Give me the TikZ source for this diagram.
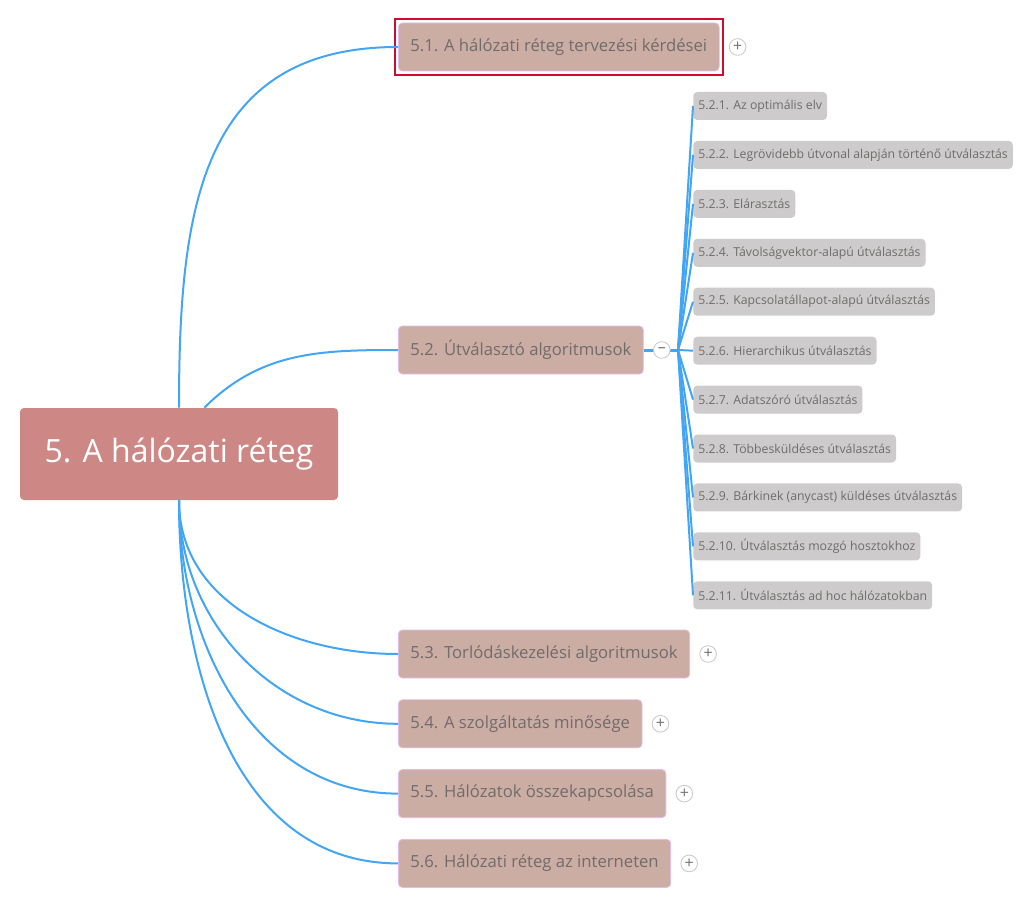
\documentclass[tikz,border=0pt]{standalone}
\usepackage{fontspec}
\setmainfont{Open Sans}
\usepackage{tikz}
\usetikzlibrary{shapes,arrows,positioning,fit,backgrounds}
\definecolor{rootfill}{RGB}{205,136,134}
\definecolor{topicfill}{RGB}{204,173,164}
\definecolor{topicline}{RGB}{226,186,240}
\definecolor{subfill}{RGB}{205,203,203}
\definecolor{linkblue}{RGB}{66,165,245}
\definecolor{selred}{RGB}{200,16,46}
\definecolor{txtgray}{RGB}{112,108,108}
\tikzstyle{root} = [rectangle, rounded corners=3pt, fill=rootfill, text=white, text centered, font=\fontsize{24}{28}\selectfont, minimum width=238.5pt, minimum height=69pt]
\tikzstyle{topic} = [rectangle, rounded corners=3pt, draw=topicline, line width=0.6pt, fill=topicfill, text=txtgray, font=\fontsize{12.5}{15}\selectfont, inner xsep=9pt, minimum height=36pt, anchor=west]
\tikzstyle{sub} = [rectangle, rounded corners=3pt, fill=subfill, text=txtgray, font=\fontsize{9.2}{11}\selectfont, inner xsep=3.75pt, minimum height=21pt, anchor=west]
\tikzstyle{toggle} = [circle, draw=black!22, line width=0.6pt, fill=white, text=black!55, inner sep=0pt, minimum size=12.5pt, font=\fontsize{12}{12}\selectfont]
\tikzstyle{selbox} = [rectangle, draw=selred, line width=1.5pt, inner sep=2.5pt]
\tikzstyle{link}  = [draw=linkblue, line width=1.5pt]

\begin{document}
\begin{tikzpicture}[x=0.75pt, y=-0.75pt]
\useasboundingbox (0,0) rectangle (1027,902);

% topics =============================
\node[root] (root) at (179,454) {5. A hálózati réteg};
\node[topic] (t1) at (398,47) {5.1. A hálózati réteg tervezési kérdései};
\node[topic] (t2) at (398,350) {5.2. Útválasztó algoritmusok};
\node[topic] (t3) at (398,654) {5.3. Torlódáskezelési algoritmusok};
\node[topic, below=15.75pt of t3.south west, anchor=north west] (t4) {5.4. A szolgáltatás minősége};
\node[topic, below=15.75pt of t4.south west, anchor=north west] (t5) {5.5. Hálózatok összekapcsolása};
\node[topic, below=15.75pt of t5.south west, anchor=north west] (t6) {5.6. Hálózati réteg az interneten};

\node[selbox, fit=(t1)] (sel) {};

% subtopics of 5.2
\coordinate (hub) at (678,350);
\node[sub] (s1) at (693,106) {5.2.1. Az optimális elv};
\node[sub, below=15.3pt of s1.south west, anchor=north west] (s2) {5.2.2. Legrövidebb útvonal alapján történő útválasztás};
\node[sub, below=15.3pt of s2.south west, anchor=north west] (s3) {5.2.3. Elárasztás};
\node[sub, below=15.3pt of s3.south west, anchor=north west] (s4) {5.2.4. Távolságvektor-alapú útválasztás};
\node[sub, below=15.3pt of s4.south west, anchor=north west] (s5) {5.2.5. Kapcsolatállapot-alapú útválasztás};
\node[sub, below=15.3pt of s5.south west, anchor=north west] (s6) {5.2.6. Hierarchikus útválasztás};
\node[sub, below=15.3pt of s6.south west, anchor=north west] (s7) {5.2.7. Adatszóró útválasztás};
\node[sub, below=15.3pt of s7.south west, anchor=north west] (s8) {5.2.8. Többesküldéses útválasztás};
\node[sub, below=15.3pt of s8.south west, anchor=north west] (s9) {5.2.9. Bárkinek (anycast) küldéses útválasztás};
\node[sub, below=15.3pt of s9.south west, anchor=north west] (s10) {5.2.10. Útválasztás mozgó hosztokhoz};
\node[sub, below=15.3pt of s10.south west, anchor=north west] (s11) {5.2.11. Útválasztás ad hoc hálózatokban};

% edges
\path[link] (root.north) edge[out=90, in=180, looseness=1.2] (t1.west);
\path[link] ([xshift=19pt]root.north) edge[out=45, in=180] (t2.west);
\path[link] (root.south) edge[out=-90, in=180] (t3.west);
\path[link] (root.south) edge[out=-90, in=180] (t4.west);
\path[link] (root.south) edge[out=-90, in=180] (t5.west);
\path[link] (root.south) edge[out=-90, in=180] (t6.west);

\path[link, line width=2.25pt] (t2.east) -- (hub);
\path[link] (hub) edge (s1.west);
\path[link] (hub) edge (s2.west);
\path[link] (hub) edge (s3.west);
\path[link] (hub) edge (s4.west);
\path[link] (hub) edge (s5.west);
\path[link] (hub) edge (s6.west);
\path[link] (hub) edge (s7.west);
\path[link] (hub) edge (s8.west);
\path[link] (hub) edge (s9.west);
\path[link] (hub) edge (s10.west);
\path[link] (hub) edge (s11.west);

% toggles
\node[toggle, right=7pt of t1] (p1) {+};
\node[toggle, right=7pt of t2] (m2) {--};
\node[toggle, right=7pt of t3] (p3) {+};
\node[toggle, right=7pt of t4] (p4) {+};
\node[toggle, right=7pt of t5] (p5) {+};
\node[toggle, right=7pt of t6] (p6) {+};

\end{tikzpicture}
\end{document}
